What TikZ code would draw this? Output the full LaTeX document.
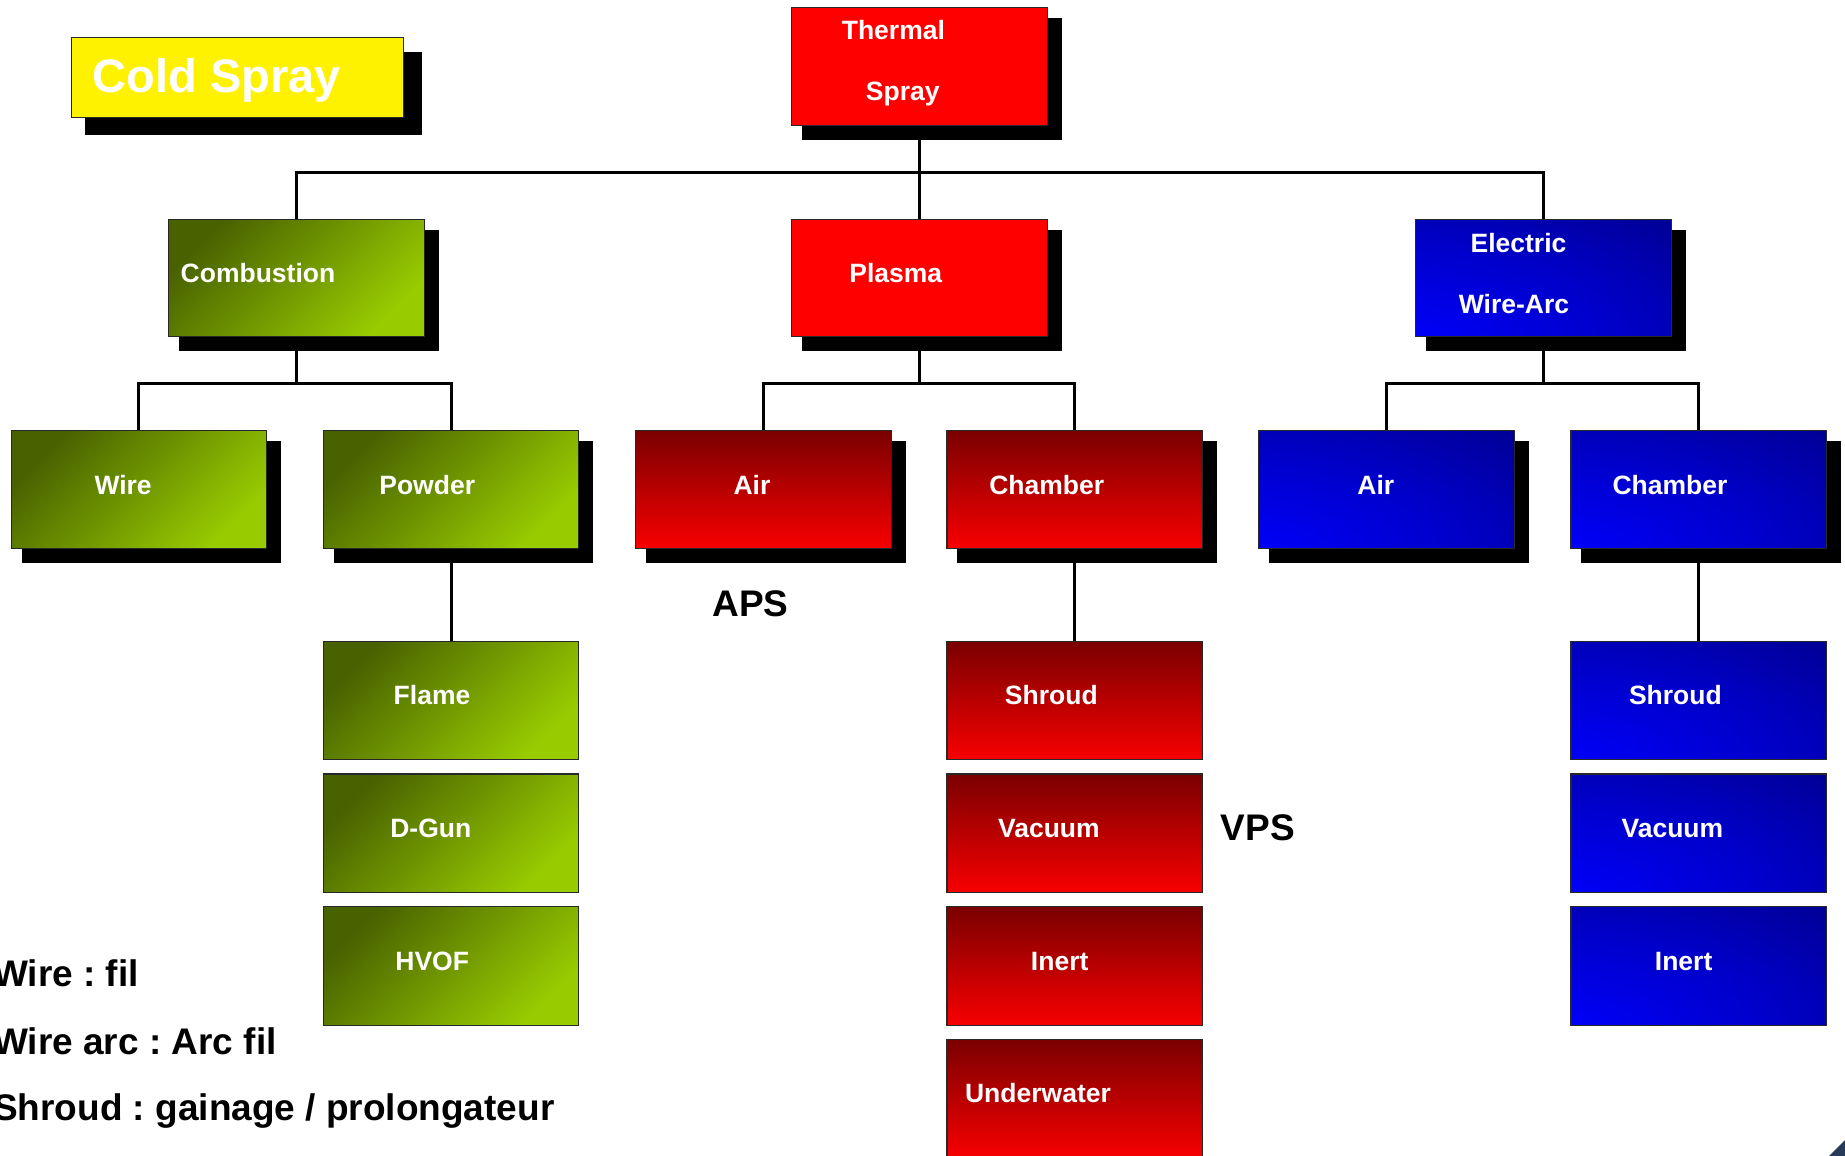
\documentclass[tikz,border=0pt]{standalone}
\usepackage{fontspec}
\setmainfont{Liberation Sans}
\frenchspacing
\definecolor{gdark}{RGB}{72,98,0}
\definecolor{glight}{RGB}{153,204,0}
\definecolor{rdark}{RGB}{122,0,0}
\definecolor{rlight}{RGB}{255,0,0}
\definecolor{rbottom}{RGB}{248,0,0}
\definecolor{bdark}{RGB}{0,0,120}
\definecolor{bmid}{RGB}{0,0,200}
\definecolor{blight}{RGB}{0,0,255}
\definecolor{edgecol}{RGB}{40,40,40}
\definecolor{cornercol}{RGB}{40,60,90}
\pgfdeclareradialshading{bluecorner}{\pgfpoint{-50bp}{-50bp}}{color(0bp)=(blight); color(20bp)=(blight); color(50bp)=(bmid); color(85bp)=(bdark); color(150bp)=(bdark)}
\pgfdeclarelayer{background}
\pgfsetlayers{background,main}
\begin{document}
\begin{tikzpicture}[x=1pt,y=-1pt,
  box/.style={rectangle, inner sep=0pt, minimum width=255.5pt, draw=edgecol, line width=1.2pt, anchor=north west},
  rowbox/.style={box, minimum height=117.5pt},
  subbox/.style={box, minimum height=118.5pt},
  gbox/.style={top color=gdark, bottom color=glight, shading angle=45},
  rbox/.style={top color=rdark, bottom color=rbottom},
  bbox/.style={shade, shading=bluecorner},
  solidred/.style={fill=rlight},
  lbl/.style={font=\bfseries\fontsize{26.5}{30}\selectfont, text=white, inner sep=0pt, anchor=base},
  big/.style={font=\bfseries\fontsize{37}{42}\selectfont, text=black, inner sep=0pt},
  conn/.style={line width=3pt, draw=black},
  shadowbox/.style={fill=black}]
\useasboundingbox (0,0) rectangle (1845,1156);

% ---------- boxes ----------
\node[box, minimum width=332pt, minimum height=80pt, fill=yellow] (cold) at (71,37) {};
\node[rowbox, solidred] (thermal) at (791,7) {};
\node[rowbox, gbox] (combustion) at (168,218.5) {};
\node[rowbox, solidred] (plasma) at (791,218.5) {};
\node[rowbox, bbox] (electric) at (1415,218.5) {};

\node[rowbox, gbox] (wire) at (10.5,430) {};
\node[rowbox, gbox] (powder) at (322.7,430) {};
\node[rowbox, rbox] (airR) at (635,430) {};
\node[rowbox, rbox] (chamberR) at (946.4,430) {};
\node[rowbox, bbox] (airB) at (1258.2,430) {};
\node[rowbox, bbox] (chamberB) at (1570.3,430) {};

\node[subbox, gbox] (flame) at (322.7,640.6) {};
\node[subbox, gbox] (dgun) at (322.7,773.3) {};
\node[subbox, gbox] (hvof) at (322.7,906) {};

\node[subbox, rbox] (shroudR) at (946.4,640.6) {};
\node[subbox, rbox] (vacuumR) at (946.4,773.3) {};
\node[subbox, rbox] (inertR) at (946.4,906) {};
\node[subbox, rbox] (underwater) at (946.4,1038.7) {};

\node[subbox, bbox] (shroudB) at (1570.3,640.6) {};
\node[subbox, bbox] (vacuumB) at (1570.3,773.3) {};
\node[subbox, bbox] (inertB) at (1570.3,906) {};

% ---------- labels ----------
\node[lbl, font=\bfseries\fontsize{47}{52}\selectfont] (tcold) at (216.8,92.6) {Cold Spray};
\node[lbl] (tthermal) at (893.4,40) {Thermal};
\node[lbl] (tspray) at (902.8,100) {Spray};
\node[lbl] (tcomb) at (258,282.2) {Combustion};
\node[lbl] (tplasma) at (895.8,282.2) {Plasma};
\node[lbl] (telec) at (1518.5,252) {Electric};
\node[lbl] (twarc) at (1514,313) {Wire-Arc};
\node[lbl] (twire) at (123.1,494.4) {Wire};
\node[lbl] (tpowder) at (427.2,494.4) {Powder};
\node[lbl] (tairR) at (752,494.4) {Air};
\node[lbl] (tchamR) at (1046.7,494.4) {Chamber};
\node[lbl] (tairB) at (1375.8,494.4) {Air};
\node[lbl] (tchamB) at (1670,494.4) {Chamber};
\node[lbl] (tflame) at (432,704.5) {Flame};
\node[lbl] (tdgun) at (430.8,837.6) {D-Gun};
\node[lbl] (thvof) at (432.2,970.6) {HVOF};
\node[lbl] (tshrR) at (1051.3,704.5) {Shroud};
\node[lbl] (tvacR) at (1048.9,837.6) {Vacuum};
\node[lbl] (tinR) at (1059.7,970.6) {Inert};
\node[lbl] (tunder) at (1038,1102.6) {Underwater};
\node[lbl] (tshrB) at (1675.4,704.5) {Shroud};
\node[lbl] (tvacB) at (1672.4,837.6) {Vacuum};
\node[lbl] (tinB) at (1683.6,970.6) {Inert};

\node[big, anchor=base] (aps) at (750.6,616.3) {APS};
\node[big, anchor=base] (vps) at (1258,840.5) {VPS};
\node[big, anchor=base west] (leg1) at (-7,986.6) {Wire : fil};
\node[big, anchor=base west] (leg2) at (-7,1054.3) {Wire arc : Arc fil};
\node[big, anchor=base west] (leg3) at (-7,1120.8) {Shroud : gainage / prolongateur};

\fill[cornercol] (1829,1156) -- (1845,1140) -- (1845,1156) -- cycle;

% ---------- connectors and shadows (behind) ----------
\begin{pgfonlayer}{background}
\fill[white] (0,0) rectangle (1845,1156);
\coordinate (bar1) at (0,172.2);
\coordinate (bar2) at (0,383);
\draw[conn] (thermal.south) -- (plasma.north);
\draw[conn] (combustion.north) |- (bar1 -| electric.north) -- (electric.north);
\foreach \p/\a/\b in {combustion/wire/powder, plasma/airR/chamberR, electric/airB/chamberB}{
  \draw[conn] (\p.south) -- (\p.south |- bar2);
  \draw[conn] (\a.north) |- (bar2 -| \b.north) -- (\b.north);
}
\draw[conn] (powder.south) -- (flame.north);
\draw[conn] (chamberR.south) -- (shroudR.north);
\draw[conn] (chamberB.south) -- (shroudB.north);
\foreach \n in {thermal,combustion,plasma,electric,wire,powder,airR,chamberR,airB,chamberB}{
  \fill[shadowbox] ([shift={(11,11)}]\n.north west) rectangle ([shift={(14,14)}]\n.south east);
}
\fill[shadowbox] ([shift={(14,15)}]cold.north west) rectangle ([shift={(18,17)}]cold.south east);
\end{pgfonlayer}
\end{tikzpicture}
\end{document}
